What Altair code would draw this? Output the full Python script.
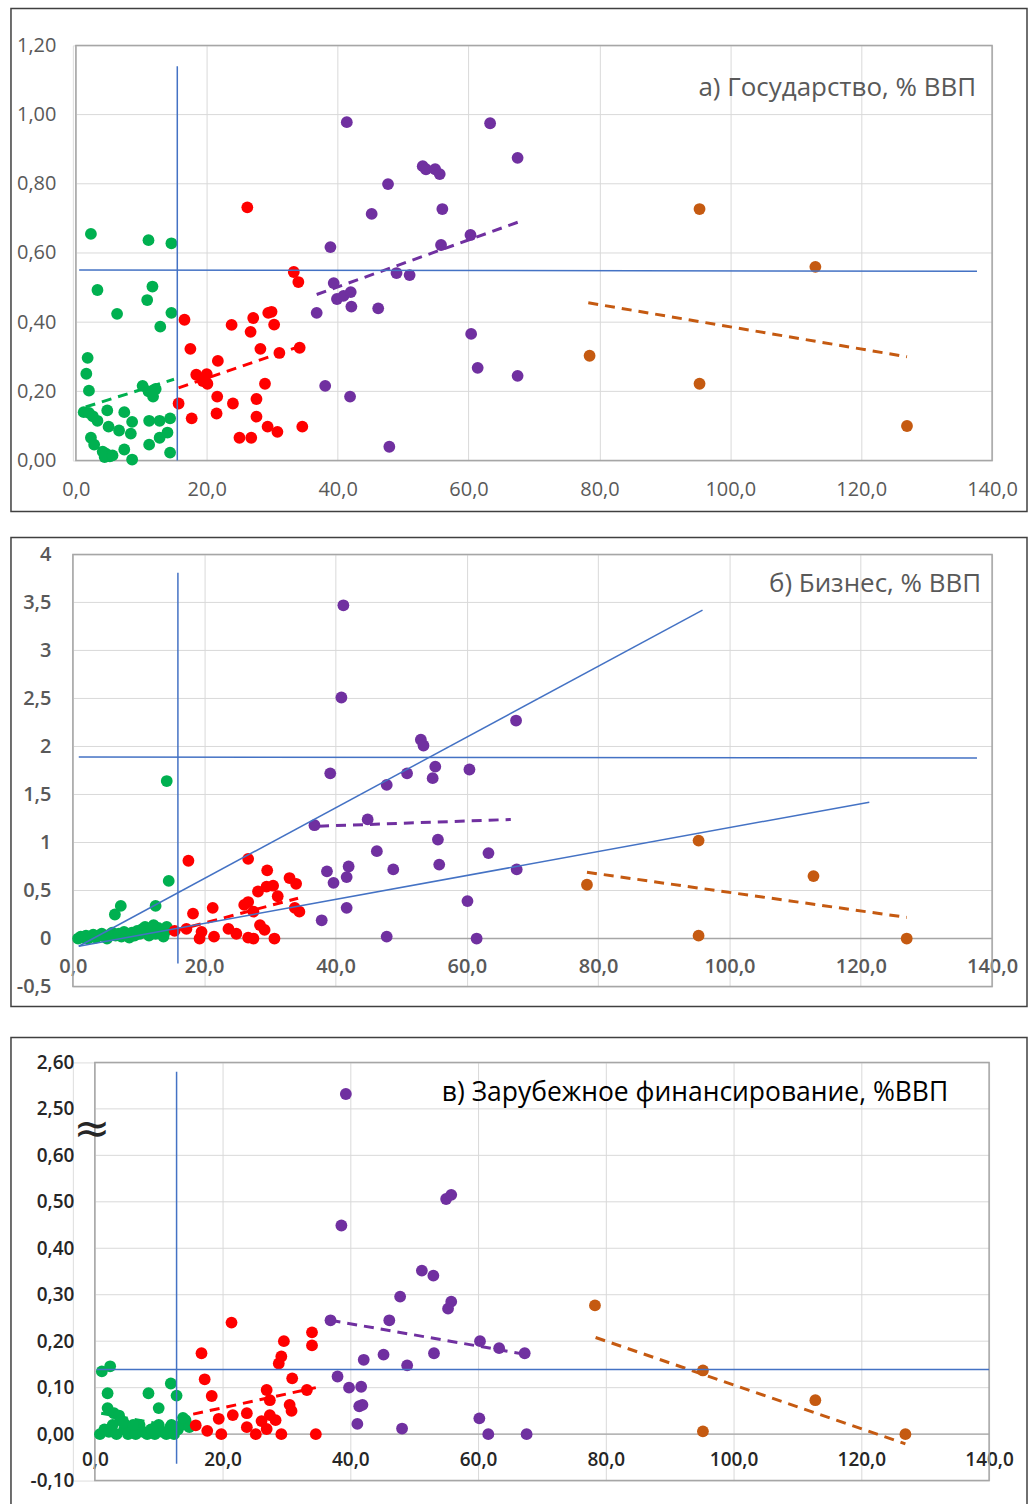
import altair as alt
import pandas as pd

FONT = "Open Sans"
X_TICKS = [0, 20, 40, 60, 80, 100, 120, 140]
GROUPS = ["green", "red", "purple", "orange"]
COLORS = ["#00b050", "#ff0000", "#7030a0", "#c55a11"]

# ---------------- Panel a) Государство ----------------
a_green_x = [2.3, 11.1, 14.6, 3.3, 11.7, 10.9, 6.3, 12.9, 14.6, 1.8, 1.6, 2.0, 10.2, 11.1, 12.2, 11.8,
             1.2, 2.0, 2.6, 3.3, 4.8, 7.4, 8.6, 11.2, 12.8, 14.4, 5.0, 6.6, 8.4, 14.0, 12.8, 2.3, 2.8, 11.2,
             4.1, 4.6, 5.2, 4.4, 5.6, 7.4, 8.6, 14.4]
a_green_y = [0.655, 0.637, 0.628, 0.493, 0.503, 0.464, 0.424, 0.387, 0.427, 0.297, 0.251, 0.202, 0.216, 0.200, 0.207, 0.185,
             0.140, 0.138, 0.128, 0.115, 0.145, 0.140, 0.112, 0.115, 0.115, 0.122, 0.098, 0.087, 0.078, 0.081, 0.066, 0.066, 0.046, 0.046,
             0.026, 0.020, 0.012, 0.010, 0.015, 0.032, 0.003, 0.023]
a_red_x = [26.2, 33.3, 34.0, 16.6, 23.8, 27.1, 26.7, 29.4, 29.9, 30.3, 17.5, 21.7, 28.2, 31.1, 34.2, 18.4,
           20.0, 19.4, 20.1, 28.9, 21.6, 27.6, 15.7, 24.0, 17.7, 21.5, 27.6, 29.3, 30.8, 34.6, 25.0, 26.8]
a_red_y = [0.732, 0.545, 0.516, 0.407, 0.392, 0.412, 0.372, 0.427, 0.430, 0.393, 0.323, 0.288, 0.323, 0.311, 0.326, 0.248,
           0.250, 0.230, 0.222, 0.222, 0.185, 0.178, 0.165, 0.165, 0.122, 0.136, 0.127, 0.098, 0.083, 0.098, 0.066, 0.066]
a_purple_x = [41.4, 63.3, 67.5, 47.7, 53.0, 53.5, 54.9, 55.6, 45.2, 56.0, 38.9, 55.8, 60.3, 39.4, 49.0, 51.0,
              39.9, 40.9, 42.0, 42.1, 36.8, 46.2, 60.4, 61.4, 67.5, 38.1, 41.9, 47.9]
a_purple_y = [0.978, 0.975, 0.875, 0.799, 0.851, 0.842, 0.842, 0.828, 0.713, 0.727, 0.617, 0.623, 0.652, 0.513, 0.542, 0.536,
              0.467, 0.476, 0.487, 0.445, 0.427, 0.440, 0.366, 0.268, 0.245, 0.216, 0.185, 0.040]
a_orange_x = [78.5, 95.3, 95.3, 113.0, 127.0]
a_orange_y = [0.303, 0.727, 0.222, 0.560, 0.100]
a_trend_x = {"green": [1.5, 15.0], "red": [15.7, 34.2], "purple": [36.8, 67.7], "orange": [78.3, 127.0]}
a_trend_y = {"green": [0.155, 0.235], "red": [0.21, 0.33], "purple": [0.48, 0.69], "orange": [0.456, 0.30]}
a_blue_x = {"v": [15.5, 15.5], "h": [0.5, 137.7]}
a_blue_y = {"v": [0.0, 1.14], "h": [0.551, 0.547]}
a_y_ticks = [0, 0.2, 0.4, 0.6, 0.8, 1.0, 1.2]

# ---------------- Panel б) Бизнес ----------------
b_green_x = [14.3, 14.6, 7.3, 6.4, 12.6, 14.3,
             0.8, 1.2, 1.5, 2.0, 2.3, 2.8, 3.1, 3.5, 4.0, 4.4, 4.8, 5.2, 5.6, 6.0, 6.5, 7.0, 7.4, 7.8,
             8.2, 8.6, 9.0, 9.4, 9.8, 10.2, 10.6, 11.0, 11.3, 11.6, 12.0, 12.3, 12.6, 13.0, 13.4, 13.8, 14.2]
b_green_y = [1.64, 0.60, 0.34, 0.25, 0.34, 0.12,
             0.0, 0.02, 0.01, 0.03, 0.0, 0.02, 0.04, 0.01, 0.03, 0.05, 0.02, 0.0, 0.04, 0.06, 0.03, 0.05, 0.02, 0.07,
             0.04, 0.01, 0.06, 0.03, 0.08, 0.05, 0.10, 0.12, 0.07, 0.03, 0.09, 0.14, 0.05, 0.11, 0.06, 0.02, 0.08]
b_red_x = [17.6, 26.7, 29.6, 33.0, 34.0, 30.5, 29.5, 28.2, 31.2, 26.7, 26.1, 21.3, 33.8, 34.5, 18.3, 27.5,
           15.5, 17.3, 19.6, 23.7, 24.9, 28.5, 29.2, 19.3, 21.5, 26.7, 27.5, 30.7]
b_red_y = [0.81, 0.83, 0.71, 0.63, 0.57, 0.55, 0.54, 0.49, 0.44, 0.38, 0.35, 0.32, 0.32, 0.28, 0.26, 0.28,
           0.08, 0.10, 0.07, 0.10, 0.05, 0.14, 0.09, 0.0, 0.02, 0.01, 0.0, 0.0]
b_purple_x = [41.2, 40.9, 67.5, 53.0, 53.4, 39.2, 50.9, 55.2, 54.8, 60.4, 47.8, 36.8, 44.9, 55.6, 46.3, 63.3,
              38.7, 42.0, 41.7, 39.7, 48.8, 55.8, 67.6, 60.1, 41.7, 37.9, 47.8, 61.5]
b_purple_y = [3.47, 2.51, 2.27, 2.07, 2.01, 1.72, 1.72, 1.79, 1.67, 1.76, 1.60, 1.18, 1.24, 1.03, 0.91, 0.89,
              0.70, 0.75, 0.64, 0.58, 0.72, 0.77, 0.72, 0.39, 0.32, 0.19, 0.02, 0.0]
b_orange_x = [78.3, 95.3, 112.8, 95.3, 127.0]
b_orange_y = [0.56, 1.02, 0.65, 0.03, 0.0]
b_trend_x = {"green": [1.0, 15.0], "red": [15.5, 34.3], "purple": [37.5, 66.7], "orange": [78.3, 127.0]}
b_trend_y = {"green": [-0.01, 0.12], "red": [0.08, 0.42], "purple": [1.17, 1.24], "orange": [0.69, 0.22]}
b_blue_x = {"v": [16.0, 16.0], "h": [0.9, 137.7], "d1": [0.9, 95.9], "d2": [0.9, 121.3]}
b_blue_y = {"v": [-0.26, 3.81], "h": [1.89, 1.88], "d1": [-0.08, 3.42], "d2": [-0.08, 1.42]}
b_y_ticks = [-0.5, 0, 0.5, 1, 1.5, 2, 2.5, 3, 3.5, 4]

# ---------------- Panel в) Зарубежное финансирование ----------------
c_green_x = [1.1, 2.4, 2.0, 8.4, 11.9, 12.8, 10.0, 2.0, 3.0, 3.8,
             0.8, 1.5, 2.2, 2.8, 3.4, 4.0, 4.6, 5.2, 5.8, 6.4, 7.0, 7.6, 8.2, 8.8, 9.4, 10.0, 10.6, 11.2,
             11.8, 12.4, 13.0, 13.6, 14.2, 14.8, 4.5, 6.0, 9.0, 12.0, 13.8]
c_green_y = [0.135, 0.146, 0.088, 0.088, 0.109, 0.083, 0.056, 0.056, 0.045, 0.040,
             0.0, 0.01, 0.005, 0.02, 0.0, 0.03, 0.01, 0.0, 0.015, 0.0, 0.02, 0.005, 0.0, 0.01, 0.0, 0.02, 0.005, 0.0,
             0.015, 0.0, 0.01, 0.02, 0.03, 0.015, 0.025, 0.02, 0.01, 0.02, 0.035]
c_red_x = [21.4, 16.7, 17.2, 18.3, 29.6, 34.0, 34.0, 29.2, 28.8, 30.9, 33.2, 26.9, 27.4, 30.5, 30.8,
           21.6, 23.8, 19.4, 15.8, 17.6, 19.8, 23.8, 25.2, 26.1, 26.9, 27.4, 28.3, 29.2, 34.6]
c_red_y = [0.24, 0.174, 0.118, 0.082, 0.2, 0.219, 0.191, 0.167, 0.152, 0.12, 0.095, 0.095, 0.073, 0.063, 0.05,
           0.041, 0.045, 0.033, 0.019, 0.007, 0.0, 0.015, 0.0, 0.028, 0.011, 0.041, 0.03, 0.0, 0.0]
c_purple_x = [39.3, 38.6, 55.0, 55.8, 51.2, 53.0, 47.8, 55.8, 55.3, 36.9, 46.1, 60.3, 63.3, 53.1,
              45.2, 42.1, 48.9, 38.0, 39.8, 41.7, 41.4, 41.9, 41.1, 48.1, 60.2, 61.6, 67.3, 67.6]
c_purple_y = [2.532, 0.449, 0.506, 0.515, 0.352, 0.341, 0.296, 0.285, 0.27, 0.245, 0.245, 0.2, 0.185, 0.174,
              0.171, 0.16, 0.148, 0.124, 0.10, 0.102, 0.06, 0.063, 0.022, 0.012, 0.034, 0.0, 0.174, 0.0]
c_orange_x = [78.3, 95.2, 112.8, 95.2, 126.9]
c_orange_y = [0.277, 0.137, 0.073, 0.006, 0.0]
c_trend_x = {"green": [1.0, 14.0], "red": [15.4, 34.6], "purple": [36.9, 67.3], "orange": [78.4, 126.9]}
c_trend_y = {"green": [0.045, 0.012], "red": [0.043, 0.10], "purple": [0.245, 0.172], "orange": [0.208, -0.021]}
c_blue_x = {"v": [12.8, 12.8], "h": [0.3, 140.0]}
c_blue_y = {"v": [-0.064, 2.58], "h": [0.139, 0.139]}
# real values shown on the broken axis (below the break, then above it)
c_y_ticks = [-0.1, 0.0, 0.1, 0.2, 0.3, 0.4, 0.5, 0.6, 2.5, 2.6]

TITLE_A = "а) Государство, % ВВП"
TITLE_B = "б) Бизнес, % ВВП"
TITLE_C = "в) Зарубежное финансирование, %ВВП"

color_scale = alt.Scale(domain=GROUPS, range=COLORS)
GRID = "#d9d9d9"
FRAME = "#a6a6a6"


def points_df(xs_list, ys_list):
    rows = []
    for g, xs, ys in zip(GROUPS, xs_list, ys_list):
        for x, y in zip(xs, ys):
            rows.append({"g": g, "x": x, "y": y})
    return pd.DataFrame(rows)


def lines_df(dx, dy):
    rows = []
    for k in dx:
        for i, (x, y) in enumerate(zip(dx[k], dy[k])):
            rows.append({"g": k, "x": x, "y": y, "o": i})
    return pd.DataFrame(rows)


def fmt(v, f):
    return f"replace(replace(format({v}, '{f}'), '.', ','), '\u2212', '-')"


def one(**kw):
    return pd.DataFrame({k: [v] for k, v in kw.items()})


def panel(pts, trends, blues, yticks, title, title_color, L, W, H, ydom, ylabel_expr, xoff, box,
          lab_color, lab_weight, ypad, xpad, tx, ty, ycalc, fsize, tsize, zero_line, extra=None):
    xs = alt.Scale(domain=[0, 140], range=[L, W], nice=False, zero=False)
    ys = alt.Scale(domain=ydom, nice=False, zero=False)
    xax = alt.Axis(values=X_TICKS, labelExpr=fmt("datum.value", ".1f"), title=None, grid=True,
                   gridColor=GRID, gridWidth=1, domain=False, ticks=False, labelFontSize=fsize,
                   labelColor=lab_color, labelFont=FONT, labelFontWeight=lab_weight, labelPadding=xpad,
                   labelFlush=False, labelOverlap=False, offset=xoff)
    yvals_plot = [v - 1.8 if v >= 1 else v for v in yticks] if ycalc != "datum.y" else yticks
    yax = alt.Axis(values=yvals_plot, labelExpr=ylabel_expr, title=None, grid=False, domain=False,
                   ticks=False, labelFontSize=fsize, labelColor=lab_color, labelFont=FONT,
                   labelFontWeight=lab_weight, labelPadding=ypad, labelFlush=False, labelOverlap=False,
                   offset=-L)
    X = alt.X("x:Q", scale=xs, axis=xax)
    Y = alt.Y("yp:Q", scale=ys, axis=yax)

    grid = alt.Chart(pd.DataFrame({"y": yticks})).transform_calculate(yp=ycalc).mark_rule(
        color=GRID, strokeWidth=1).encode(y=Y, x=alt.value(L), x2=alt.value(W))
    plot_frame = alt.Chart(one(a=0)).mark_rect(fill="transparent", stroke=FRAME, strokeWidth=1.5).encode(
        x=alt.value(L), x2=alt.value(W), y=alt.value(0), y2=alt.value(H))
    layers = [grid, plot_frame]
    if zero_line:
        zl = alt.Chart(one(y=0.0)).transform_calculate(yp=ycalc).mark_rule(
            color=FRAME, strokeWidth=1.5).encode(y=Y, x=alt.value(L), x2=alt.value(W))
        layers.append(zl)
    trend = alt.Chart(trends).transform_calculate(yp=ycalc).mark_line(
        strokeDash=[10, 7], strokeWidth=3).encode(
        x=X, y=Y, color=alt.Color("g:N", scale=color_scale, legend=None), order="o:Q", detail="g:N")
    pts_l = alt.Chart(pts).transform_calculate(yp=ycalc).mark_circle(size=140, opacity=1).encode(
        x=X, y=Y, color=alt.Color("g:N", scale=color_scale, legend=None))
    blue = alt.Chart(blues).transform_calculate(yp=ycalc).mark_line(
        color="#4472c4", strokeWidth=1.5).encode(x=X, y=Y, detail="g:N", order="o:Q")
    ttl = alt.Chart(one(t=title)).mark_text(
        align="right", baseline="middle", fontSize=tsize, font=FONT, color=title_color).encode(
        text="t:N", x=alt.value(tx), y=alt.value(ty))
    frame = alt.Chart(one(a=0)).mark_rect(
        fill="transparent", stroke="#404040", strokeWidth=1.5).encode(
        x=alt.value(box[0]), x2=alt.value(box[1]), y=alt.value(box[2]), y2=alt.value(box[3]))
    layers += [trend, pts_l, blue, ttl, frame]
    if extra:
        layers.extend(extra)
    return alt.layer(*layers).properties(width=W, height=H)


ident = "datum.y"
broken = "datum.y >= 1 ? datum.y - 1.8 : datum.y"

pa = panel(points_df([a_green_x, a_red_x, a_purple_x, a_orange_x], [a_green_y, a_red_y, a_purple_y, a_orange_y]),
           lines_df(a_trend_x, a_trend_y), lines_df(a_blue_x, a_blue_y), a_y_ticks, TITLE_A, "#595959",
           3, 921, 416, [0, 1.2], fmt("datum.value", ".2f"), 0,
           (-62, 956, -37, 467), "#595959", 400, 20, 19, 905, 43, ident, 20, 26, False)

pb = panel(points_df([b_green_x, b_red_x, b_purple_x, b_orange_x], [b_green_y, b_red_y, b_purple_y, b_orange_y]),
           lines_df(b_trend_x, b_trend_y), lines_df(b_blue_x, b_blue_y), b_y_ticks, TITLE_B, "#595959",
           0, 921, 433, [-0.5, 4], fmt("datum.value", ".1~f"), -48,
           (-62, 956, -17, 453), "#595959", 600, 22, 18, 910, 30, ident, 20, 26, True)

c_label = ("datum.value > 0.65 ? " + fmt("datum.value + 1.8", ".2f") + " : " + fmt("datum.value", ".2f"))
spacer_c = alt.Chart(one(a=0)).mark_rect(
    fill="transparent", stroke="white", strokeWidth=1).encode(
    x=alt.value(-62), x2=alt.value(-61), y=alt.value(-31), y2=alt.value(-30))
brk = alt.Chart(one(t="≈")).mark_text(
    align="center", baseline="middle", fontSize=44, font="DejaVu Sans", color="#262626").encode(
    text="t:N", x=alt.value(19), y=alt.value(68))

pc = panel(points_df([c_green_x, c_red_x, c_purple_x, c_orange_x], [c_green_y, c_red_y, c_purple_y, c_orange_y]),
           lines_df(c_trend_x, c_trend_y), lines_df(c_blue_x, c_blue_y), c_y_ticks, TITLE_C, "#000000",
           22, 918, 419, [-0.1, 0.8], c_label, -46.6,
           (-62, 956, -25, 446), "#262626", 600, 21, 16, 877, 31, broken, 19, 26.5, True, extra=[spacer_c, brk])

chart = alt.vconcat(pa, pb, pc, spacing=22).properties(
    padding={"left": 9, "top": 5, "right": 0, "bottom": 0}
).configure_view(stroke="transparent", strokeWidth=0).configure(background="white")

chart.save("out.html", embed_options={"renderer": "svg", "actions": False})
